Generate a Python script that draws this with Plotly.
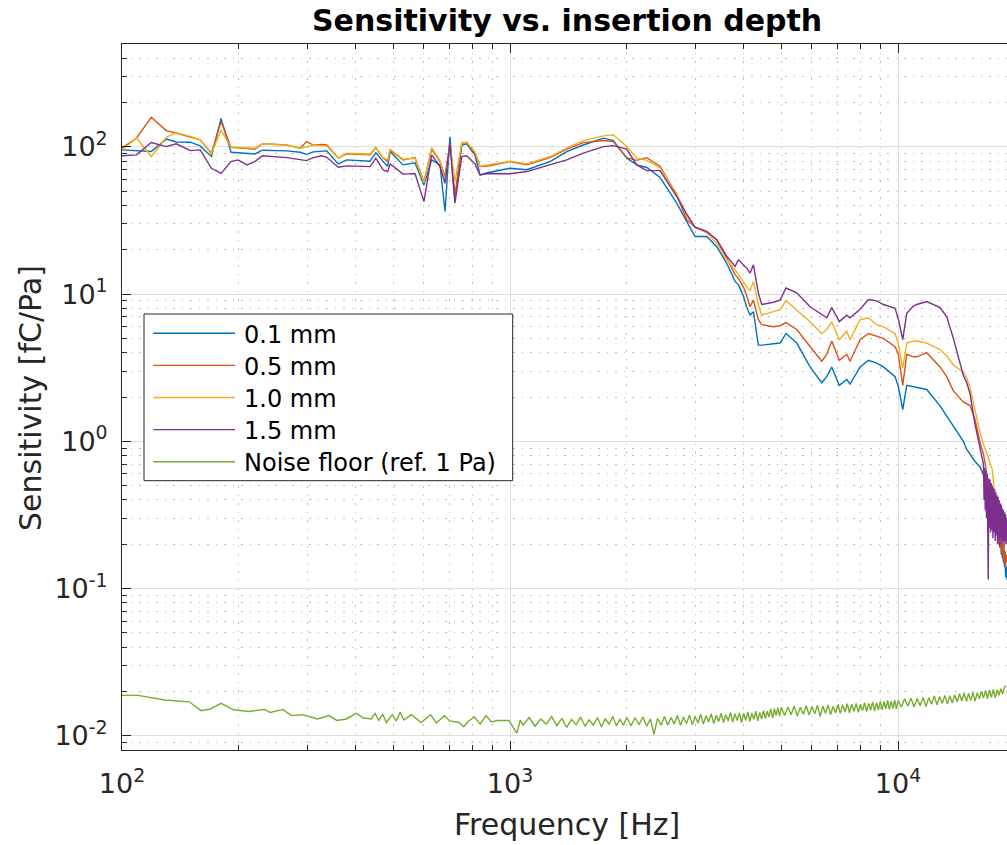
import plotly.graph_objects as go

# ---------------- data ----------------
# shared frequency grid for the four sensitivity curves [Hz]
FREQ_MAIN = [100, 109, 119, 130, 138, 150, 159, 170, 180, 191, 199, 210, 220, 230, 266, 288, 299, 311,
             327, 337, 361, 379, 436, 451, 471, 484, 491, 530, 569, 600, 628, 660, 680, 700, 721, 751,
             773, 812, 837, 879, 1000, 1104, 1268,
             1400, 1545, 1740, 1846, 1999, 2121, 2251, 2436, 2690, 2854, 2998, 3214, 3410, 3618, 3802,
             3877, 3994, 4076, 4156, 4239, 4365, 4454, 4770, 4964, 5144, 5481, 5933, 6359, 6550, 6747,
             7058, 7376, 7521, 7985, 8386, 8813, 9166, 9824, 10018, 10283, 10530, 10950, 11174, 11858,
             12830, 13353, 13883, 14734, 15035, 15333, 15795, 16268]

# noisy high-frequency tail [Hz]
FREQ_TAIL = [16600, 16660, 16720, 16780, 16840, 16900, 16960, 17020, 17080, 17140, 17200, 17260, 17320,
             17380, 17440, 17500, 17560, 17620, 17680, 17740, 17800, 17860, 17920, 17980, 18040, 18100,
             18160, 18220, 18280, 18340, 18400, 18460, 18520, 18580, 18640, 18700, 18760, 18820, 18880,
             18940, 19000, 19060]

S_01 = [95.4, 94.5, 93, 113, 108, 107.6, 101.5, 86, 156, 92, 91.5, 90.5, 89.6, 95, 94, 92, 89, 92.5,
        93.5, 94, 76.7, 81.6, 80, 91.5, 79.5, 74, 93, 75.5, 78, 55, 81.6, 75.5, 36.4, 117, 43.6, 103,
        105, 88, 64.5, 67, 71.6, 70, 79.5,
        93, 103, 114.6, 110.4, 83.8, 75.5, 72.5, 62, 41.5, 31.1, 24.6, 24.6, 21, 16.2, 12.2,
        11.6, 9.7, 8.1, 7.2, 7.6, 4.5, 4.5, 4.6, 4.65, 5.4, 4.65, 3.2, 2.5, 2.75, 3.2,
        2.4, 2.63, 2.45, 3.2, 3.55, 3.4, 3.2, 2.75, 2.35, 1.64, 2.4, 2.35, 2.3, 2.25,
        1.74, 1.48, 1.27, 1.0, 0.88, 0.81, 0.73, 0.67]
S_01_TAIL = [0.60, 0.58, 0.56, 0.55, 0.53, 0.51, 0.50, 0.48, 0.46, 0.45, 0.43, 0.41, 0.40, 0.38, 0.36,
             0.35, 0.33, 0.32, 0.30, 0.29, 0.28, 0.26, 0.27, 0.24, 0.25, 0.22, 0.23, 0.20, 0.21, 0.19,
             0.20, 0.17, 0.18, 0.16, 0.17, 0.15, 0.16, 0.14, 0.15, 0.12, 0.14, 0.115]

S_05 = [98, 115, 159, 129, 124, 116, 111.6, 90.6, 148.5, 99.5, 99, 97.5, 96.5, 105, 103, 98, 108.6, 103,
        104, 103, 83.8, 89.6, 88.3, 99, 84, 79.5, 95.4, 81.6, 84.6, 58, 96.5, 79.5, 63, 106, 46, 106,
        107, 90.6, 73.5, 74, 79.5, 75.5, 84.6,
        96.5, 107, 110.4, 108.6, 84.6, 81, 84.5, 74, 47, 32, 28.5, 26.6, 23.4, 17.6, 13.5,
        12.8, 11.2, 9.7, 8.2, 9.1, 6.7, 6.2, 6.0, 6.1, 6.4, 5.75, 4.4, 3.5, 3.9, 4.8,
        3.55, 3.9, 3.5, 4.9, 5.4, 5.2, 5.0, 4.4, 3.9, 2.4, 3.9, 3.75, 3.75, 4.0,
        3.2, 2.75, 2.2, 1.85, 1.8, 1.75, 1.4, 0.98]
S_05_TAIL = [0.82, 0.78, 0.74, 0.70, 0.66, 0.62, 0.59, 0.56, 0.53, 0.50, 0.47, 0.45, 0.42, 0.40, 0.38,
             0.36, 0.34, 0.32, 0.30, 0.29, 0.27, 0.26, 0.27, 0.24, 0.25, 0.22, 0.24, 0.20, 0.23, 0.19,
             0.22, 0.18, 0.21, 0.17, 0.20, 0.16, 0.19, 0.15, 0.18, 0.14, 0.17, 0.15]

S_10 = [95.4, 115, 86, 116, 125, 118, 111.6, 89.6, 130, 99.5, 99, 98.5, 98, 105, 102.7, 98, 100, 103,
        102, 101.5, 83.8, 90.6, 89.6, 99, 84.6, 81.6, 96.5, 82.5, 83.8, 57, 99, 80.7, 60, 103, 58, 107,
        107.6, 93, 74, 75.5, 80, 76.7, 86,
        98, 110.4, 118.8, 121, 100.5, 83.8, 81, 72, 48, 34, 28.5, 26, 22.2, 17.1, 14.6,
        13.5, 12.2, 11.2, 10.6, 12.2, 8.5, 7.2, 7.6, 7.8, 9.0, 7.8, 6.5, 5.4, 5.75, 6.5,
        4.9, 5.6, 4.9, 6.7, 6.9, 6.2, 6.0, 5.4, 4.6, 3.15, 4.65, 4.8, 4.8, 4.65,
        4.2, 3.8, 3.3, 2.95, 2.7, 2.3, 1.6, 1.15]
S_10_TAIL = [0.95, 0.92, 0.90, 0.88, 0.86, 0.84, 0.82, 0.80, 0.78, 0.76, 0.74, 0.72, 0.70, 0.68, 0.66,
             0.64, 0.58, 0.52, 0.46, 0.41, 0.37, 0.34, 0.31, 0.29, 0.31, 0.26, 0.29, 0.24, 0.28, 0.23,
             0.27, 0.22, 0.26, 0.21, 0.25, 0.22, 0.26, 0.21, 0.24, 0.20, 0.23, 0.21]

S_15 = [87, 88.3, 107, 100.5, 105, 94.4, 95.4, 71.6, 66, 79.5, 81.6, 75.5, 79.5, 87, 84.6, 82, 80.7, 84.6,
        87, 85, 72.8, 74.3, 73.5, 83.8, 69.8, 68, 76.7, 65.3, 66, 42.5, 88.3, 73.5, 56.6, 106, 41.5, 86,
        87, 76.7, 64.5, 66, 65.7, 68, 75.5,
        81.6, 90.6, 100.5, 102, 96.5, 75.5, 69, 69, 46, 35, 28.5, 26.6, 23.4, 18.1, 15.4,
        17.1, 15.8, 15.0, 13.9, 15.8, 10.2, 8.5, 8.8, 9.1, 11.0, 10.2, 8.2, 7.2, 6.9, 8.1,
        6.5, 7.2, 6.9, 7.9, 9.2, 9.0, 8.5, 8.0, 6.8, 4.9, 7.4, 8.3, 8.5, 8.9,
        8.1, 7.0, 5.0, 2.8, 2.5, 2.1, 1.3, 0.9]
S_15_TAIL = [0.70, 0.40, 0.66, 0.34, 0.63, 0.30, 0.60, 0.28, 0.115, 0.56, 0.26, 0.55, 0.24, 0.52, 0.25,
             0.50, 0.22, 0.48, 0.24, 0.47, 0.21, 0.45, 0.23, 0.43, 0.20, 0.42, 0.22, 0.40, 0.19, 0.38,
             0.22, 0.37, 0.20, 0.35, 0.21, 0.34, 0.19, 0.33, 0.21, 0.32, 0.20, 0.30]

# noise floor (ref. 1 Pa)
NOISE_F_LOW = [100, 110, 129, 149, 160, 169, 180, 194, 212, 233, 241, 260, 273, 292, 319, 342, 358, 379,
               401, 419, 439, 449, 459, 470, 480, 497, 509, 521, 532, 557, 590, 624, 646, 678, 698, 739,
               760, 782, 809, 838, 867, 896, 928, 993, 1041, 1063]
NOISE_V_LOW = [0.0188, 0.0188, 0.0175, 0.0170, 0.0148, 0.0152, 0.0166, 0.0150, 0.0146, 0.0151, 0.0144,
               0.0151, 0.0137, 0.0139, 0.0130, 0.0137, 0.0127, 0.0130, 0.0142, 0.0132, 0.0130, 0.0142,
               0.0127, 0.0140, 0.0123, 0.0139, 0.0126, 0.0145, 0.0128, 0.0139, 0.0123, 0.0139, 0.0122,
               0.0137, 0.0126, 0.0123, 0.0115, 0.0126, 0.0134, 0.0120, 0.0137, 0.0124, 0.0127, 0.0127,
               0.0104, 0.0128]
NOISE_F_HIGH = [1080, 1120, 1160, 1200, 1240, 1280, 1320, 1360, 1400, 1440, 1480, 1520, 1560, 1600, 1640,
                1680, 1720, 1760, 1800, 1840, 1880, 1920, 1960, 2000,
                2050, 2100, 2150, 2200, 2250, 2300, 2350, 2400, 2450, 2500, 2550, 2600, 2650, 2700, 2750,
                2800, 2850, 2900, 2950, 3000, 3050, 3100, 3150, 3200, 3250, 3300, 3350, 3400, 3450, 3500,
                3550, 3600, 3650, 3700, 3750, 3800, 3850, 3900, 3950, 4000, 4050, 4100, 4150, 4200, 4250,
                4300, 4350, 4400, 4450, 4500, 4550, 4600, 4650, 4700, 4750, 4800, 4850, 4900, 4950, 5000,
                5100, 5200, 5300, 5400, 5500, 5600, 5700, 5800, 5900, 6000, 6100, 6200, 6300, 6400, 6500,
                6600, 6700, 6800, 6900, 7000, 7100, 7200, 7300, 7400, 7500, 7600, 7700, 7800, 7900, 8000,
                8100, 8200, 8300, 8400, 8500, 8600, 8700, 8800, 8900, 9000, 9100, 9200, 9300, 9400, 9500,
                9600, 9700, 9800, 9900, 10000,
                10200, 10400, 10600, 10800, 11000, 11200, 11400, 11600, 11800, 12000, 12200, 12400,
                12600, 12800, 13000, 13200, 13400, 13600, 13800, 14000, 14200, 14400, 14600, 14800,
                15000, 15200, 15400, 15600, 15800, 16000, 16200, 16400, 16600, 16800, 17000, 17200,
                17400, 17600, 17800, 18000, 18200, 18400, 18600, 18800, 19000]
NOISE_V_HIGH = [0.0118, 0.0133, 0.0116, 0.0130, 0.0120, 0.0135, 0.0117, 0.0131, 0.0114, 0.0129, 0.0119,
                0.0134, 0.0116, 0.0128, 0.0118, 0.0133, 0.0115, 0.0130, 0.0120, 0.0135, 0.0117, 0.0129,
                0.0118, 0.0133,
                0.0117, 0.0133, 0.0119, 0.0134, 0.0116, 0.0130, 0.0102, 0.0131, 0.0118, 0.0135,
                0.0118, 0.0133, 0.0120, 0.0137, 0.0118, 0.0134, 0.0121, 0.0138, 0.0119, 0.0135,
                0.0122, 0.0140, 0.0120, 0.0137, 0.0124, 0.0141, 0.0121, 0.0138, 0.0125, 0.0142,
                0.0123, 0.0139, 0.0126, 0.0144, 0.0124, 0.0141, 0.0127, 0.0143, 0.0123, 0.0142,
                0.0127, 0.0145, 0.0125, 0.0143, 0.0129, 0.0147, 0.0126, 0.0144, 0.0130, 0.0148,
                0.0131, 0.0147, 0.0134, 0.0152, 0.0132, 0.0153, 0.0137, 0.0155, 0.0136, 0.0156,
                0.0137, 0.0157, 0.0139, 0.0159, 0.0136, 0.0156, 0.0140, 0.0160, 0.0138, 0.0158,
                0.0141, 0.0161, 0.0135, 0.0159, 0.0142, 0.0162, 0.0139, 0.0158, 0.0143, 0.0163,
                0.0142, 0.0162, 0.0145, 0.0165, 0.0143, 0.0164, 0.0146, 0.0166, 0.0144, 0.0164,
                0.0148, 0.0168, 0.0146, 0.0166, 0.0149, 0.0170, 0.0147, 0.0168, 0.0150, 0.0171,
                0.0150, 0.0171, 0.0152, 0.0174, 0.0151, 0.0172, 0.0153, 0.0175, 0.0152, 0.0173,
                0.0157, 0.0178, 0.0159, 0.0180, 0.0157, 0.0179, 0.0160, 0.0182, 0.0158, 0.0181,
                0.0164, 0.0186, 0.0162, 0.0185, 0.0166, 0.0188, 0.0164, 0.0187, 0.0167, 0.0190,
                0.0170, 0.0193, 0.0172, 0.0195, 0.0171, 0.0194, 0.0174, 0.0197, 0.0172, 0.0196,
                0.0178, 0.0201, 0.0180, 0.0203, 0.0179, 0.0204, 0.0182, 0.0206, 0.0181, 0.0205,
                0.0188, 0.0209, 0.0192, 0.0214, 0.0218]

SERIES_NAMES = ["0.1 mm", "0.5 mm", "1.0 mm", "1.5 mm", "Noise floor (ref. 1 Pa)"]
COLORS = ["#0072BD", "#D95319", "#EDB120", "#7E2F8E", "#77AC30"]
X_TICKS = [100, 1000, 10000]
X_TICK_TEXT = ["10<sup>2</sup>", "10<sup>3</sup>", "10<sup>4</sup>"]
Y_TICKS = [0.01, 0.1, 1, 10, 100]
Y_TICK_TEXT = ["10<sup>-2</sup>", "10<sup>-1</sup>", "10<sup>0</sup>", "10<sup>1</sup>", "10<sup>2</sup>"]

# ---------------- figure ----------------
W, H = 1007, 845
ML, MR, MT, MB = 122, 0, 44, 95
PW, PH = W - ML - MR, H - MT - MB

fig = go.Figure()
curves = [(S_01, S_01_TAIL), (S_05, S_05_TAIL), (S_10, S_10_TAIL), (S_15, S_15_TAIL)]
for i, (main, tail) in enumerate(curves):
    fig.add_trace(go.Scatter(x=FREQ_MAIN + FREQ_TAIL, y=main + tail, mode="lines",
                             name=SERIES_NAMES[i], line=dict(color=COLORS[i], width=1.4),
                             showlegend=False))
fig.add_trace(go.Scatter(x=NOISE_F_LOW + NOISE_F_HIGH, y=NOISE_V_LOW + NOISE_V_HIGH, mode="lines",
                         name=SERIES_NAMES[4], line=dict(color=COLORS[4], width=1.4),
                         showlegend=False))

AX = "#262626"
FONT = "DejaVu Sans"
common = dict(type="log", showline=True, linecolor=AX, linewidth=1, ticks="inside", ticklen=9,
              tickcolor=AX, tickwidth=1, showgrid=True, gridcolor="#dedede", gridwidth=1,
              zeroline=False, tickfont=dict(family=FONT, size=27, color=AX),
              minor=dict(dtick="D1", ticks="inside", ticklen=5, tickcolor=AX, showgrid=True,
                         gridcolor="#bdbdbd", griddash="1.5px,7px", gridwidth=1))

fig.update_xaxes(**common, range=[2, 4.2808], tickmode="array", tickvals=X_TICKS,
                 ticktext=X_TICK_TEXT, mirror="ticks", ticklabelstandoff=10)
fig.update_yaxes(**common, range=[-2.0969, 2.6990], tickmode="array", tickvals=Y_TICKS,
                 ticktext=Y_TICK_TEXT, mirror=False, ticklabelstandoff=8)

def px_x(p):
    return (p - ML) / PW

def px_y(p):
    return (H - MB - p) / PH

annotations = [
    dict(text="<b>Sensitivity vs. insertion depth</b>", x=px_x(567), y=px_y(21), xref="paper", yref="paper",
         xanchor="center", yanchor="middle", showarrow=False, font=dict(family=FONT, size=30, color="#000")),
    dict(text="Frequency [Hz]", x=px_x(567), y=px_y(824), xref="paper", yref="paper",
         xanchor="center", yanchor="middle", showarrow=False, font=dict(family=FONT, size=30, color=AX)),
    dict(text="Sensitivity [fC/Pa]", x=px_x(30), y=px_y(398), xref="paper", yref="paper",
         xanchor="center", yanchor="middle", textangle=-90, showarrow=False,
         font=dict(family=FONT, size=30, color=AX)),
]

shapes = [dict(type="rect", xref="paper", yref="paper", x0=px_x(144), x1=px_x(512.7),
               y0=px_y(480.7), y1=px_y(314), fillcolor="white", line=dict(color=AX, width=1), layer="above")]
row_y = [333.3, 365.4, 397.5, 429.6, 461.7]
for i, name in enumerate(SERIES_NAMES):
    shapes.append(dict(type="line", xref="paper", yref="paper", x0=px_x(153.3), x1=px_x(235),
                       y0=px_y(row_y[i]), y1=px_y(row_y[i]), line=dict(color=COLORS[i], width=1.4),
                       layer="above"))
    annotations.append(dict(text=name, x=px_x(242), y=px_y(row_y[i] + 1.5), xref="paper", yref="paper",
                            xanchor="left", yanchor="middle", showarrow=False,
                            font=dict(family=FONT, size=24, color="#000")))

fig.update_layout(width=W, height=H, margin=dict(l=ML, r=MR, t=MT, b=MB, pad=0),
                  paper_bgcolor="white", plot_bgcolor="white", showlegend=False,
                  annotations=annotations, shapes=shapes)

fig.write_html("out.html")
